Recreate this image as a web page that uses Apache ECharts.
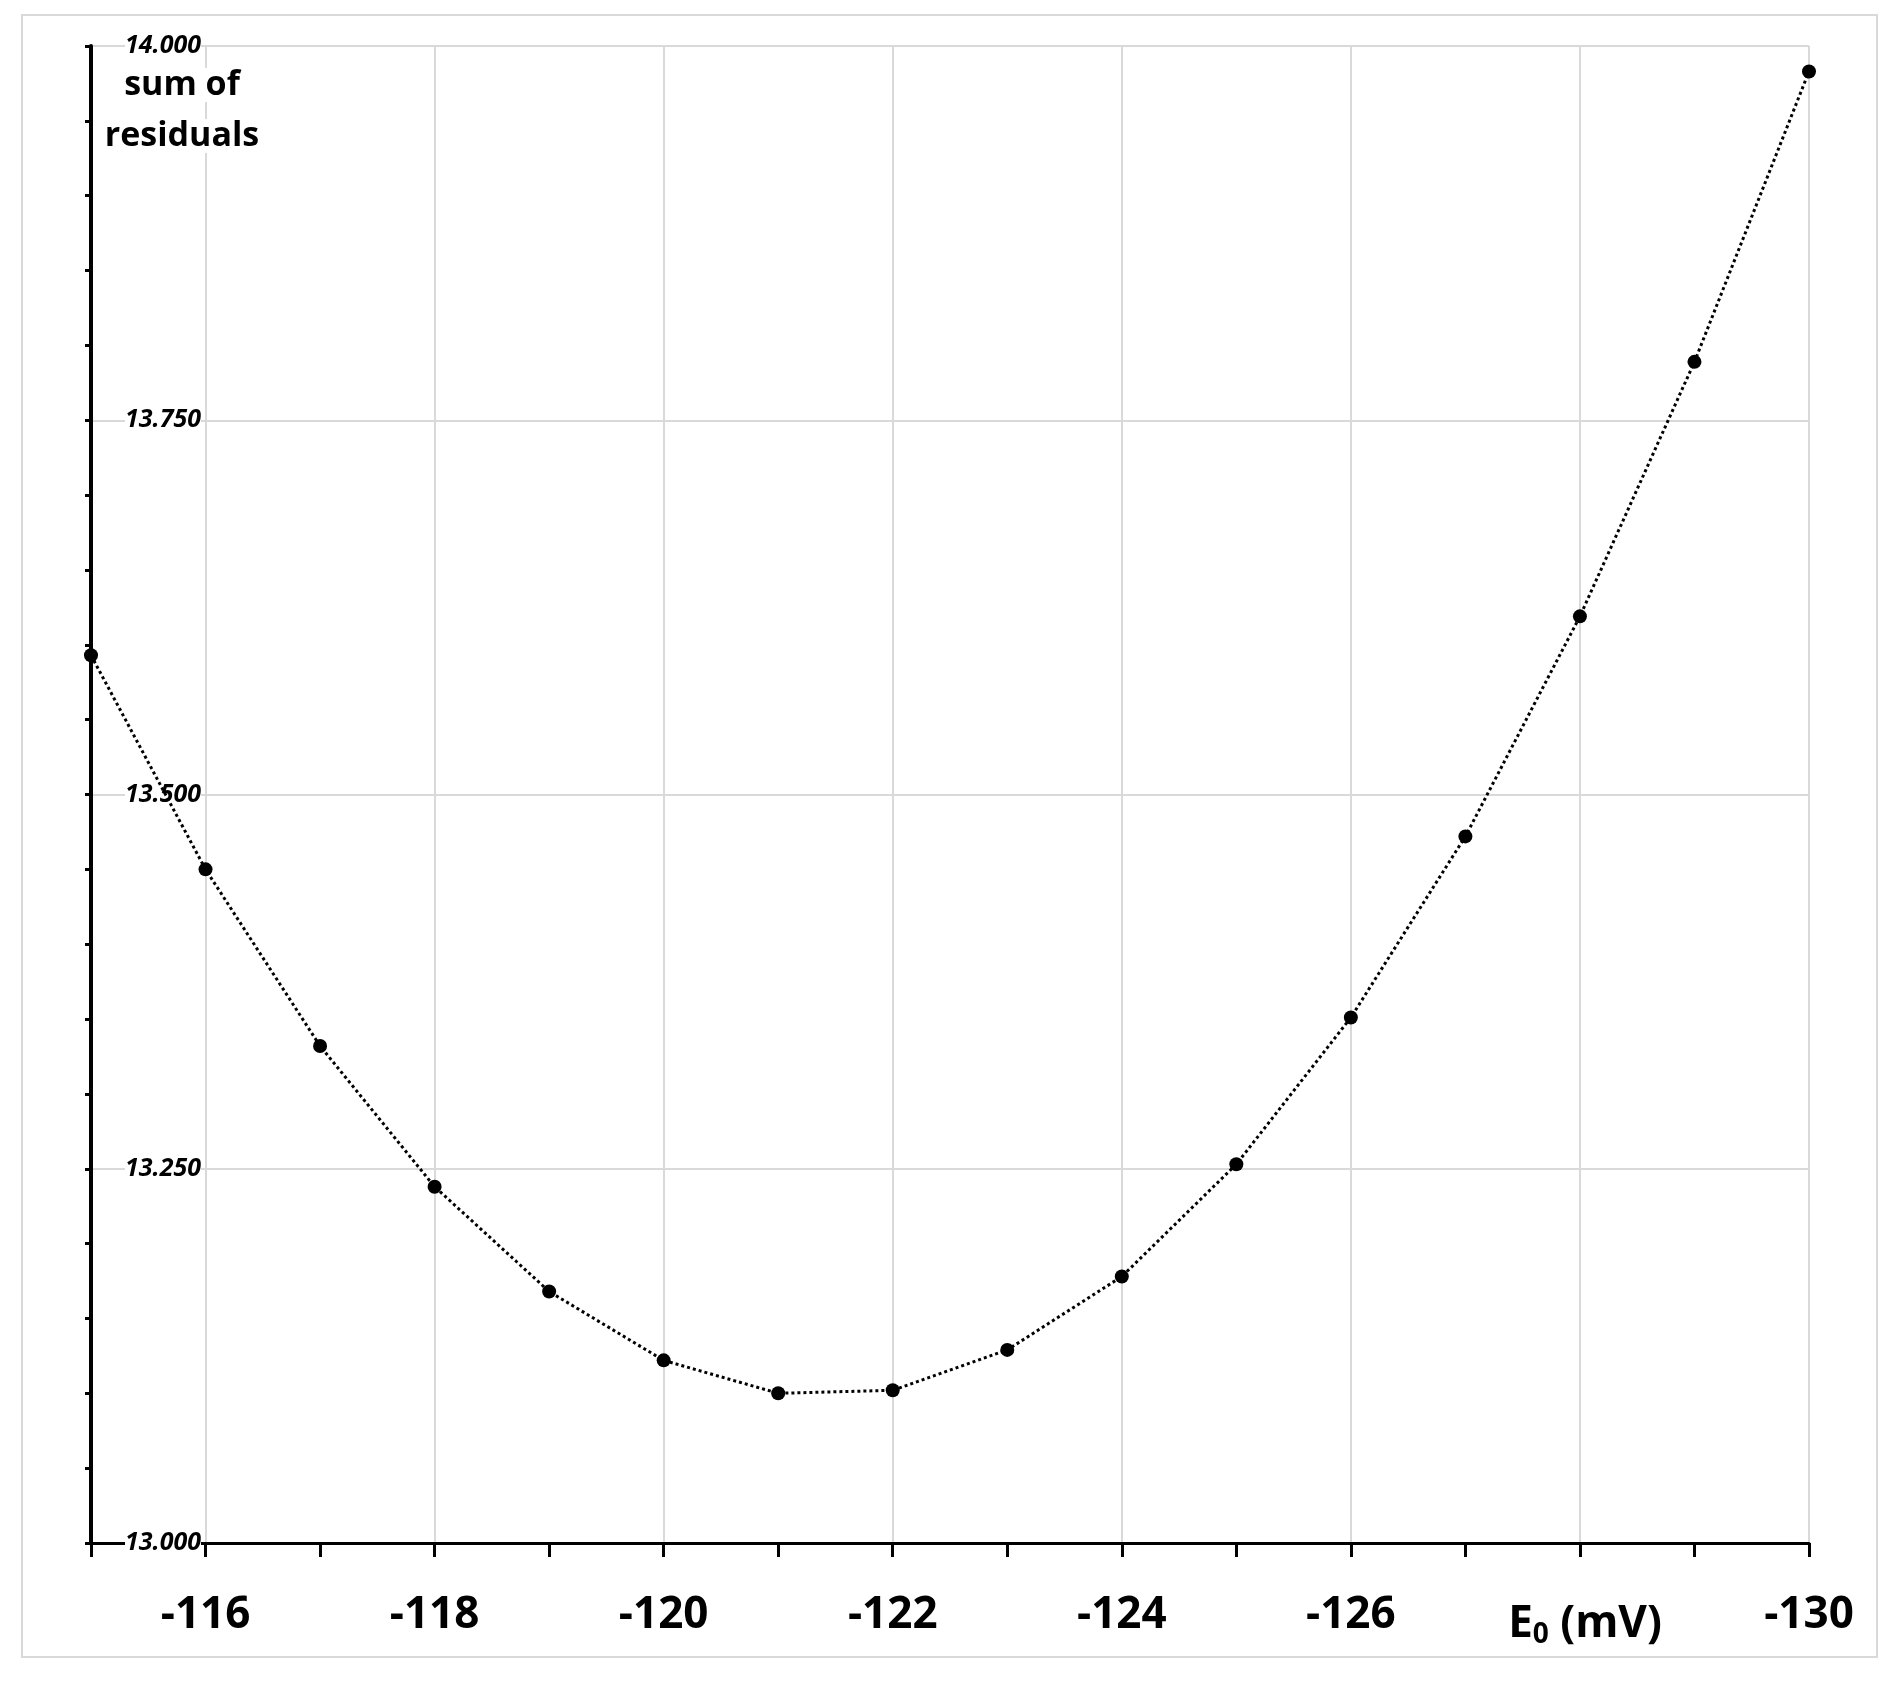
<!DOCTYPE html>
<html><head><meta charset="utf-8">
<script src="https://cdn.jsdelivr.net/npm/echarts@6/dist/echarts.min.js"></script>
<style>html,body{margin:0;padding:0;background:#fff}#c{width:1901px;height:1686px}</style>
</head><body><div id="c"></div>
<script>
const xValues = [-115,-116,-117,-118,-119,-120,-121,-122,-123,-124,-125,-126,-127,-128,-129,-130];
const yValues = [13.593,13.450,13.332,13.238,13.168,13.122,13.100,13.102,13.129,13.178,13.253,13.351,13.472,13.619,13.789,13.983];
const hiddenXLabels = [-115,-128];
const chart = echarts.init(document.getElementById('c'));
chart.setOption({
  backgroundColor:'#fff',
  animation:false,
  grid:{left:91,right:92,top:46,bottom:143,containLabel:false},
  xAxis:{type:'value',inverse:true,min:-130,max:-115,interval:2,
    axisLine:{onZero:false,lineStyle:{color:'#000',width:3}},
    axisTick:{show:true,length:14,lineStyle:{color:'#000',width:3}},
    minorTick:{show:true,splitNumber:2,length:14,lineStyle:{color:'#000',width:3}},
    splitLine:{show:true,lineStyle:{color:'#d9d9d9',width:2}},
    axisLabel:{margin:50,fontSize:44,fontWeight:'bold',color:'#000',fontFamily:'Open Sans',
      formatter:v=>hiddenXLabels.includes(v)?'':String(v)}},
  yAxis:{type:'value',min:13,max:14,interval:0.25,
    axisLine:{show:true,lineStyle:{color:'#000',width:4}},
    axisTick:{show:true,length:6,lineStyle:{color:'#000',width:3}},
    minorTick:{show:true,splitNumber:5,length:6,lineStyle:{color:'#000',width:3}},
    splitLine:{show:true,lineStyle:{color:'#d9d9d9',width:2}},
    axisLabel:{inside:true,margin:34,fontSize:25,fontStyle:'italic',fontWeight:'bold',color:'#000',
      fontFamily:'Open Sans',backgroundColor:'#fff',formatter:v=>v.toFixed(3)}},
  graphic:[
    {type:'rect',shape:{x:22,y:15,width:1855,height:1642},style:{fill:'none',stroke:'#d9d9d9',lineWidth:2},z:-10},
    {type:'text',x:182,y:85,style:{text:'sum of',font:'bold 34px "Open Sans"',fill:'#000',align:'center',verticalAlign:'middle',backgroundColor:'#fff'},z:100},
    {type:'text',x:182,y:136,style:{text:'residuals',font:'bold 34px "Open Sans"',fill:'#000',align:'center',verticalAlign:'middle',backgroundColor:'#fff'},z:100},
    {type:'text',x:1585,y:1624,style:{text:'{a|E}{b|0}{a| (mV)}',align:'center',verticalAlign:'middle',
      rich:{a:{fontSize:44,fontWeight:'bold',fontFamily:'Open Sans',color:'#000'},
            b:{fontSize:28,fontWeight:'bold',fontFamily:'Open Sans',color:'#000',padding:[22,0,0,0]}}},z:100}
  ],
  series:[{type:'line',data:xValues.map((x,i)=>[x,yValues[i]]),
    symbol:'circle',symbolSize:14,itemStyle:{color:'#000'},
    lineStyle:{color:'#000',width:3,type:[3,3]},z:5}]
});
</script></body></html>
